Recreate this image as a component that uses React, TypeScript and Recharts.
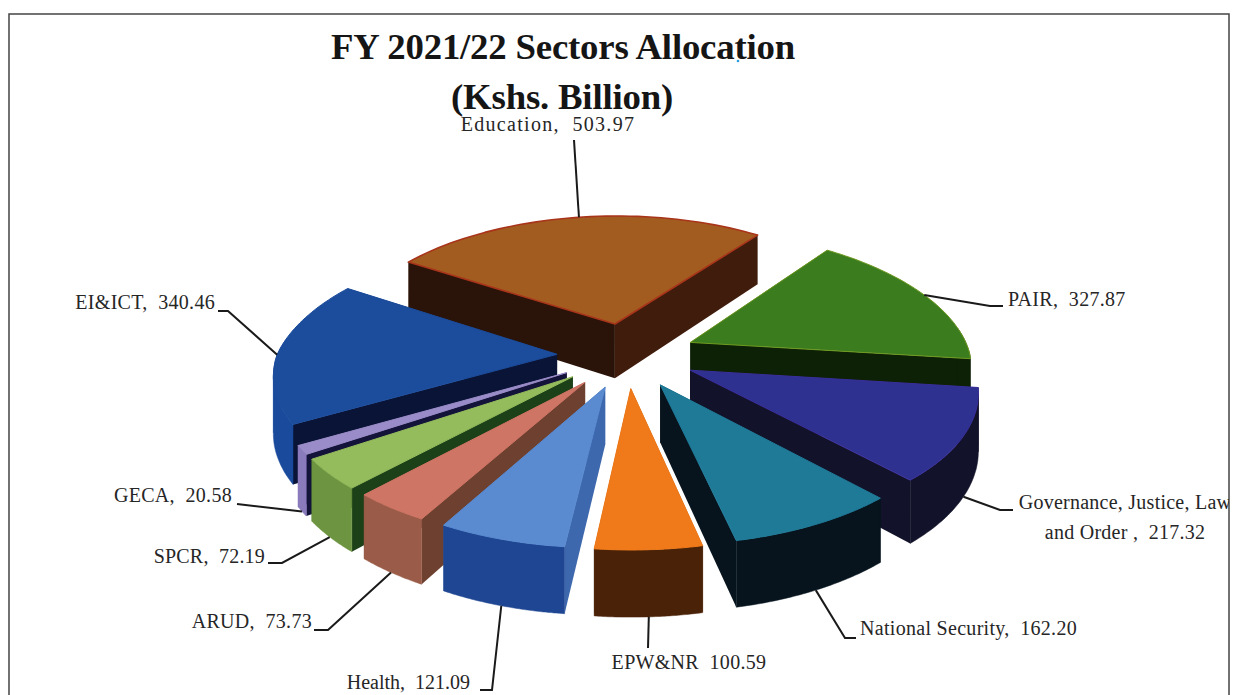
import React from "react";
import { PieChart, Pie } from "recharts";

const rightNames = ["Education", "PAIR", "Governance", "National Security", "EPW&NR"];
const rightValues = [503.97, 327.87, 217.32, 162.2, 100.59];
const leftNames = ["EI&ICT", "GECA", "SPCR", "ARUD", "Health"];
const leftValues = [340.46, 20.58, 72.19, 73.73, 121.09];

const total = [...rightValues, ...leftValues].reduce((a, b) => a + b, 0);
const sum = (a: number[]) => a.reduce((x, y) => x + y, 0);
const rightData = rightNames.map((name, i) => ({ name, value: rightValues[i] }));
const leftData = leftNames.map((name, i) => ({ name, value: leftValues[i] }));

const labelLines: Record<string, string[]> = {
  Education: ["Education,  503.97"],
  PAIR: ["PAIR,  327.87"],
  Governance: ["Governance, Justice, Law", "and Order ,  217.32"],
  "National Security": ["National Security,  162.20"],
  "EPW&NR": ["EPW&NR  100.59"],
  Health: ["Health,  121.09"],
  ARUD: ["ARUD,  73.73"],
  SPCR: ["SPCR,  72.19"],
  GECA: ["GECA,  20.58"],
  "EI&ICT": ["EI&ICT,  340.46"],
};

type Skin = { top: string; rim: string; side: string; sideEnd?: string; edge: string };
const skins: Record<string, Skin> = {
  Education: { top: "#a35c20", rim: "#2a1308", side: "#2a1308", sideEnd: "#401c0c", edge: "#a8341a" },
  PAIR: { top: "#3a7c1e", rim: "#0d2107", side: "#0d2107", edge: "#6f9a20" },
  Governance: { top: "#2f3190", rim: "#12122a", side: "#12122a", edge: "#3a2f9c" },
  "National Security": { top: "#1f7a98", rim: "#07141e", side: "#07141e", edge: "#1f7a98" },
  "EPW&NR": { top: "#f07a1a", rim: "#4a2208", side: "#4a2208", edge: "#f07a1a" },
  Health: { top: "#5a8bd0", rim: "#1f4692", side: "#3d68ad", edge: "#5a8bd0" },
  ARUD: { top: "#cf7565", rim: "#9a5c48", side: "#6e4030", edge: "#cf7565" },
  SPCR: { top: "#94bb5c", rim: "#6d9440", side: "#1c4018", edge: "#94bb5c" },
  GECA: { top: "#9a8cc8", rim: "#8a7bbd", side: "#14143a", edge: "#9a8cc8" },
  "EI&ICT": { top: "#1c4c9c", rim: "#1a4a9c", side: "#0a1436", edge: "#1c4c9c" },
};

// Projection settings for the tilted pie
const EXPLODE = 70;
const DEPTH = 2103;
const DEPTH_BACK_X = 1666;
const TILT = 0.4645;
const WALL = 56;

type Pt = { x: number; y: number; s: number };
function project(cx: number, cy: number, mid: number, r: number, a: number): Pt {
  const m = (mid * Math.PI) / 180;
  const t = (a * Math.PI) / 180;
  const X = EXPLODE * Math.cos(m) + r * Math.cos(t);
  const Y = EXPLODE * Math.sin(m) + r * Math.sin(t);
  const s = DEPTH / (DEPTH + Y);
  const sx = Y > 0 ? DEPTH_BACK_X / (DEPTH_BACK_X + Y) : s;
  return { x: cx + X * sx, y: cy - Y * TILT * s, s };
}
const drop = (p: Pt) => ({ x: p.x, y: p.y + WALL * p.s, s: p.s });
const poly = (pts: { x: number; y: number }[]) =>
  "M" + pts.map((p) => `${p.x.toFixed(1)},${p.y.toFixed(1)}`).join("L") + "Z";

function Slice(props: any) {
  const { cx, cy, outerRadius, startAngle, endAngle } = props;
  const name = props.name ?? props.payload?.name;
  const skin = skins[name];
  const mid = (startAngle + endAngle) / 2;
  const n = 48;
  const arc: Pt[] = [];
  const front: Pt[] = [];
  for (let i = 0; i <= n; i++) {
    const a = startAngle + ((endAngle - startAngle) * i) / n;
    const p = project(cx, cy, mid, outerRadius, a);
    arc.push(p);
    if (Math.sin((a * Math.PI) / 180) < 0.12) front.push(p);
  }
  const apex = project(cx, cy, mid, 0, 0);
  const first = arc[0];
  const last = arc[n];
  // split the visible rim into runs that move one way across the screen
  const runs: Pt[][] = [];
  let run: Pt[] = [];
  let dir = 0;
  front.forEach((p, i) => {
    if (i > 0) {
      const d = Math.sign(p.x - front[i - 1].x);
      if (dir !== 0 && d !== 0 && d !== dir) {
        runs.push(run);
        run = [front[i - 1]];
      }
      if (d !== 0) dir = d;
    }
    run.push(p);
  });
  if (run.length > 1) runs.push(run);
  return (
    <g>
      <path d={poly([apex, first, drop(first), drop(apex)])} fill={skin.side} />
      <path d={poly([apex, last, drop(last), drop(apex)])} fill={skin.sideEnd ?? skin.side} />
      {runs.map((r, i) => (
        <path key={i} d={poly([...r, ...r.map(drop).reverse()])} fill={skin.rim} stroke={skin.rim} strokeWidth={0.5} />
      ))}
      <path d={poly([apex, ...arc])} fill={skin.top} stroke={skin.edge} strokeWidth={name === "Education" ? 1.6 : 1} strokeLinejoin="round" />
    </g>
  );
}

type Callout = {
  nudge: number;
  via: number[][];
  text: number[];
  anchor: "start" | "middle" | "end";
  front: boolean;
  spacing: number;
};
const callouts: Record<string, Callout> = {
  Education: { nudge: -1, via: [[574, 140]], text: [548, 131], anchor: "middle", front: false, spacing: 1.3 },
  PAIR: { nudge: 0, via: [[990, 306], [1003, 306]], text: [1008, 306], anchor: "start", front: false, spacing: 0.3 },
  Governance: { nudge: 0, via: [[1000, 510], [1013, 510]], text: [1125, 509], anchor: "middle", front: true, spacing: 0.25 },
  "National Security": { nudge: 0, via: [[845, 638], [856, 638]], text: [860, 635], anchor: "start", front: true, spacing: 0.3 },
  "EPW&NR": { nudge: 0, via: [[648, 648]], text: [689, 669], anchor: "middle", front: true, spacing: 0.3 },
  Health: { nudge: 0, via: [[492, 690], [480, 690]], text: [470, 689], anchor: "end", front: true, spacing: 0 },
  ARUD: { nudge: 0, via: [[328, 630], [314, 630]], text: [312, 628], anchor: "end", front: true, spacing: 0.3 },
  SPCR: { nudge: 0, via: [[282, 563], [268, 563]], text: [265, 563], anchor: "end", front: true, spacing: 0.2 },
  GECA: { nudge: 0, via: [[237, 504]], text: [232, 502], anchor: "end", front: true, spacing: 0.3 },
  "EI&ICT": { nudge: 1.5, via: [[228, 311], [218, 311]], text: [215, 309], anchor: "end", front: false, spacing: 0.3 },
};

function renderLabel(props: any) {
  const { cx, cy, outerRadius, startAngle, endAngle } = props;
  const name = props.name ?? props.payload?.name;
  const c = callouts[name];
  const mid = (startAngle + endAngle) / 2;
  const rim = project(cx, cy, mid, outerRadius, mid + c.nudge);
  const from = c.front ? drop(rim) : rim;
  const pts = [[from.x, from.y], ...c.via];
  return (
    <g key={name}>
      <polyline points={pts.map((p) => p.join(",")).join(" ")} fill="none" stroke="#1a1a1a" strokeWidth={2} />
      <text
        x={c.text[0]}
        y={c.text[1]}
        textAnchor={c.anchor}
        fontFamily="'Liberation Serif', serif"
        fontSize={20}
        letterSpacing={c.spacing}
        fill="#262626"
        clipPath="url(#frameClip)"
        style={{ whiteSpace: "pre" }}
      >
        {labelLines[name].map((line, i) => (
          <tspan key={i} x={c.text[0]} dy={i === 0 ? 0 : 30}>
            {line}
          </tspan>
        ))}
      </text>
    </g>
  );
}

const START = 147.1;

export default function App() {
  return (
    <div style={{ position: "absolute", left: 0, top: 0, width: 1233, height: 695, overflow: "hidden", background: "#fff" }}>
      <PieChart width={1233} height={695} margin={{ top: 0, right: 0, bottom: 0, left: 0 }}>
        <defs>
          <clipPath id="frameClip" clipPathUnits="userSpaceOnUse">
            <rect x={0} y={0} width={1229} height={695} />
          </clipPath>
        </defs>
        <rect x={9} y={14} width={1220} height={700} fill="none" stroke="#444" strokeWidth={1.5} />
        <text x={563} y={59} textAnchor="middle" fontFamily="'Liberation Serif', serif" fontWeight="bold" fontSize={36.8} letterSpacing={-0.2} fill="#151515">
          FY 2021/22 Sectors Allocation
        </text>
        <text x={562} y={109} textAnchor="middle" fontFamily="'Liberation Serif', serif" fontWeight="bold" fontSize={36.8} letterSpacing={-0.2} fill="#151515">
          (Kshs. Billion)
        </text>
        <circle cx={738} cy={61} r={1.3} fill="#2a9fe0" />
        <Pie
          data={rightData}
          dataKey="value"
          nameKey="name"
          cx={627}
          cy={355}
          innerRadius={0}
          outerRadius={280}
          startAngle={START}
          endAngle={START - (360 * sum(rightValues)) / total}
          stroke="none"
          shape={Slice}
          label={renderLabel}
          labelLine={false}
          isAnimationActive={false}
        />
        <Pie
          data={leftData}
          dataKey="value"
          nameKey="name"
          cx={627}
          cy={355}
          innerRadius={0}
          outerRadius={280}
          startAngle={START}
          endAngle={START + (360 * sum(leftValues)) / total}
          stroke="none"
          shape={Slice}
          label={renderLabel}
          labelLine={false}
          isAnimationActive={false}
        />
      </PieChart>
    </div>
  );
}
